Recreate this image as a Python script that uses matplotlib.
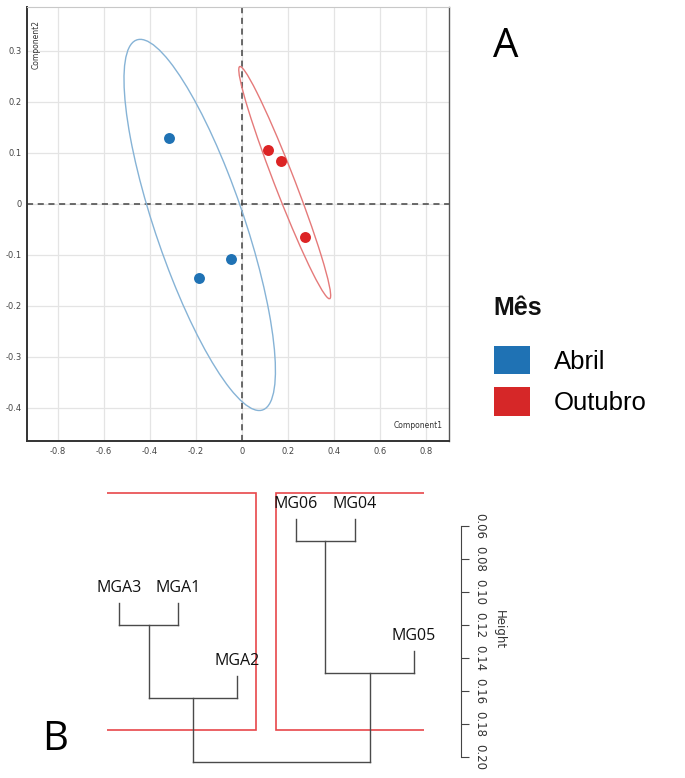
import numpy as np
import matplotlib
matplotlib.use("Agg")
import matplotlib.pyplot as plt
from matplotlib.patches import Ellipse, Rectangle, Patch

plt.rcParams['axes.unicode_minus'] = False

# ---------------- data: PCA (panel A) ----------------
groups = ["Abril", "Outubro"]
abril_pc1 = [-0.317, -0.187, -0.048]
abril_pc2 = [0.129, -0.145, -0.108]
outubro_pc1 = [0.113, 0.170, 0.274]
outubro_pc2 = [0.106, 0.084, -0.065]
xticks = [-0.8, -0.6, -0.4, -0.2, 0, 0.2, 0.4, 0.6, 0.8]
yticks = [-0.4, -0.3, -0.2, -0.1, 0, 0.1, 0.2, 0.3]

# ---------------- data: dendrogram (panel B) ----------------
leaf_labels = ["MGA3", "MGA1", "MGA2", "MG06", "MG04", "MG05"]
# R-style merge matrix: negative = leaf (1-based, in plot order), positive = earlier merge step
merge_a = [-4, -1, 1, 2, 4]
merge_b = [-5, -2, -6, -3, 3]
merge_heights = [0.069, 0.120, 0.149, 0.164, 0.203]
hang = 0.0133
height_ticks = [0.06, 0.08, 0.10, 0.12, 0.14, 0.16, 0.18, 0.20]
cluster_sizes = [3, 3]

W, H = 685, 778
fig = plt.figure(figsize=(W / 100, H / 100), dpi=100)

def fx(px):
    return px / W

def fy(py):
    return 1 - py / H

# ================= Panel A =================
ax = fig.add_axes([fx(27), fy(441), fx(449) - fx(27), fy(7) - fy(441)])
ax.set_xlim(-0.935, 0.9)
ax.set_ylim(-0.465, 0.386)
ax.set_xticks(xticks)
ax.set_yticks(yticks)
fmt = lambda v: "0" if abs(v) < 1e-9 else f"{v:.1f}"
ax.set_xticklabels([fmt(v) for v in xticks])
ax.set_yticklabels([fmt(v) for v in yticks])
ax.tick_params(length=0, labelsize=6, colors="#444444", pad=4)
ax.grid(True, color="#e4e4e4", linewidth=0.9)
ax.set_axisbelow(True)
for s in ["left", "bottom"]:
    ax.spines[s].set_color("#333333")
    ax.spines[s].set_linewidth(1.4)
ax.spines["top"].set_color("#c8c8c8")
ax.spines["right"].set_color("#555555")
ax.spines["top"].set_linewidth(0.8)
ax.spines["right"].set_linewidth(1.0)

ax.axhline(0, color="#444444", linestyle=(0, (4, 3)), linewidth=1.1, zorder=1)
ax.axvline(0, color="#444444", linestyle=(0, (4, 3)), linewidth=1.1, zorder=1)

point_colors = ["#1f72b4", "#dc2324"]
ellipse_colors = ["#86b3d6", "#e57a7a"]
k95 = np.sqrt(5.991)
for (px, py), pc, ec in zip([(abril_pc1, abril_pc2), (outubro_pc1, outubro_pc2)],
                            point_colors, ellipse_colors):
    px = np.array(px); py = np.array(py)
    cov = np.cov(px, py)
    vals, vecs = np.linalg.eigh(cov)
    order = vals.argsort()[::-1]
    vals, vecs = vals[order], vecs[:, order]
    angle = np.degrees(np.arctan2(vecs[1, 0], vecs[0, 0]))
    ell = Ellipse((px.mean(), py.mean()), 2 * k95 * np.sqrt(vals[0]),
                  2 * k95 * np.sqrt(vals[1]), angle=angle,
                  facecolor="none", edgecolor=ec, linewidth=1.0, zorder=2)
    ax.add_patch(ell)
    ax.scatter(px, py, s=62, color=pc, zorder=3, linewidths=0)

ax.text(0.985, 0.025, "Component1", transform=ax.transAxes, ha="right",
        va="bottom", fontsize=5.5, color="#333333")
ax.text(0.012, 0.97, "Component2", transform=ax.transAxes, ha="left",
        va="top", rotation=90, fontsize=5.5, color="#333333")

fig.text(fx(506), fy(47), "A", fontsize=29, ha="center", va="center",
         family="Open Sans")

# Legend
fig.text(fx(493), fy(308), "Mês", fontsize=18, fontweight="bold",
         ha="left", va="center", family="Liberation Sans", color="#111111")
fs = 18.5
fpx = fs * 100 / 72
handles = [Patch(facecolor=c, edgecolor="none") for c in ["#1f72b4", "#d62728"]]
fig.legend(handles, groups, loc="upper left",
           bbox_to_anchor=(fx(494), fy(346)), frameon=False, borderpad=0,
           prop={"family": "Liberation Sans", "size": fs},
           handlelength=36 / fpx, handleheight=34 / fpx,
           handletextpad=24 / fpx, labelspacing=0.5, borderaxespad=0)

# ================= Panel B =================
h_lo = 0.040
def hpx(h):
    return 526 + (h - 0.06) / 0.02 * 33

axd = fig.add_axes([fx(107), fy(hpx(0.208)), fx(424) - fx(107),
                    fy(hpx(0.038)) - fy(hpx(0.208))])
axd.set_xlim((107 - 119) / 59 + 1, (424 - 119) / 59 + 1)
axd.set_ylim(0.208, 0.038)
axd.axis("off")

node_x = {}
node_h = {}
def child_info(c):
    if c < 0:
        return float(-c), None
    return node_x[c], node_h[c]

lc = "#4a4a4a"
for i, (a, b, h) in enumerate(zip(merge_a, merge_b, merge_heights), start=1):
    xa, ha = child_info(a)
    xb, hb = child_info(b)
    for xc, hc, c in [(xa, ha, a), (xb, hb, b)]:
        top = h - hang if hc is None else hc
        axd.plot([xc, xc], [top, h], color=lc, linewidth=1.0, clip_on=False)
        if hc is None:
            axd.annotate(leaf_labels[-c - 1], (xc, top), xytext=(0, 5),
                         textcoords="offset points", ha="center", va="bottom",
                         fontsize=11.5, family="Open Sans", color="#111111",
                         annotation_clip=False)
    axd.plot([xa, xb], [h, h], color=lc, linewidth=1.0, clip_on=False)
    node_x[i] = (xa + xb) / 2
    node_h[i] = h

# rect.hclust k=2
hs = sorted(merge_heights, reverse=True)
cut = (hs[0] + hs[1]) / 2
cs = np.concatenate([[0], np.cumsum(cluster_sizes)])
for j in range(len(cluster_sizes)):
    x0 = cs[j] + 0.66
    x1 = cs[j + 1] + 0.33
    axd.add_patch(Rectangle((x0, h_lo), x1 - x0, cut - h_lo, facecolor="none",
                            edgecolor="#e8474a", linewidth=1.2))

# Height axis
axh = fig.add_axes([fx(440), fy(hpx(0.208)), fx(461) - fx(440),
                    fy(hpx(0.038)) - fy(hpx(0.208))])
axh.set_ylim(0.208, 0.038)
axh.set_xticks([])
for s in ["left", "top", "bottom"]:
    axh.spines[s].set_visible(False)
axh.patch.set_visible(False)
axh.spines["right"].set_bounds(height_ticks[0], height_ticks[-1])
axh.spines["right"].set_color("#444444")
axh.yaxis.tick_right()
axh.set_yticks(height_ticks)
axh.set_yticklabels([f"{v:.2f}" for v in height_ticks], rotation=-90,
                    va="center", ha="left")
axh.tick_params(axis="y", length=6, labelsize=8.5, colors="#444444", pad=3)
for lab in axh.get_yticklabels():
    lab.set_color("#333333")
axh.yaxis.set_label_position("right")
axh.set_ylabel("Height", rotation=-90, fontsize=8.5, color="#333333", labelpad=14)

fig.text(fx(55), fy(740), "B", fontsize=29, ha="center", va="center",
         family="Open Sans")

fig.savefig("out.png", dpi=100)
